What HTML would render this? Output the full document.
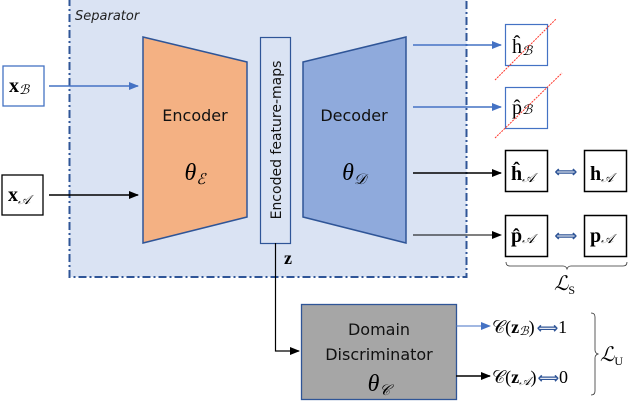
<!DOCTYPE html>
<html><head><meta charset="utf-8"><style>
html,body{margin:0;padding:0;background:#fff}
svg{display:block}
.s{font-family:"DejaVu Sans","Liberation Sans",sans-serif}
.m{font-family:"Liberation Serif","DejaVu Serif",serif}
</style></head><body>
<svg width="628" height="404" viewBox="0 0 628 404" xmlns="http://www.w3.org/2000/svg">
<defs>
<marker id="ab" markerWidth="10" markerHeight="8" refX="9" refY="4" orient="auto" markerUnits="userSpaceOnUse"><path d="M0,0 L10,4 L0,8 z" fill="#4472c4"/></marker>
<marker id="ak" markerWidth="10" markerHeight="8" refX="9" refY="4" orient="auto" markerUnits="userSpaceOnUse"><path d="M0,0 L10,4 L0,8 z" fill="#000"/></marker>
</defs>
<rect x="69.5" y="-2" width="397" height="279" fill="#dae3f3" stroke="#2f5597" stroke-width="2" stroke-dasharray="8,3,2,3"/>
<text x="75" y="20" class="s" font-size="13" font-style="italic" fill="#222">Separator</text>
<polygon points="143,37 247,62 247,217 143,243" fill="#f4b183" stroke="#2f5597" stroke-width="1.5"/>
<text x="195" y="121" class="s" font-size="16" text-anchor="middle" fill="#111">Encoder</text>
<text x="195" y="180" class="m" font-size="24" font-style="italic" text-anchor="middle">θ<tspan font-size="15" dy="4">ℰ</tspan></text>
<rect x="260.5" y="37.5" width="30" height="206" fill="#dae3f3" stroke="#2f5597" stroke-width="1.2"/>
<text transform="translate(281,140) rotate(-90)" class="s" font-size="14" text-anchor="middle" fill="#111">Encoded feature-maps</text>
<polygon points="303,62 406,37 406,243 303,217" fill="#8faadc" stroke="#2f5597" stroke-width="1.5"/>
<text x="354" y="121" class="s" font-size="16" text-anchor="middle" fill="#111">Decoder</text>
<text x="354" y="180" class="m" font-size="24" font-style="italic" text-anchor="middle">θ<tspan font-size="15" dy="4">𝒟</tspan></text>
<text x="284" y="264" class="m" font-size="18" font-weight="bold">z</text>
<polyline points="275.5,243 275.5,351 299,351" fill="none" stroke="#000" stroke-width="1.2" marker-end="url(#ak)"/>
<rect x="3" y="66" width="41" height="40" fill="#fff" stroke="#4472c4" stroke-width="1.3"/>
<text x="9" y="92" class="m" font-size="20" font-weight="bold">x<tspan font-size="13" font-style="italic" font-weight="normal" dy="2">ℬ</tspan></text>
<rect x="2" y="175" width="41" height="40" fill="#fff" stroke="#000" stroke-width="1.3"/>
<text x="8" y="201" class="m" font-size="20" font-weight="bold">x<tspan font-size="13" font-style="italic" font-weight="normal" dy="3">𝒜</tspan></text>
<line x1="49" y1="86" x2="138" y2="86" stroke="#4472c4" stroke-width="1.5" marker-end="url(#ab)"/>
<line x1="49" y1="195" x2="138" y2="195" stroke="#000" stroke-width="1.5" marker-end="url(#ak)"/>
<line x1="413" y1="45" x2="501" y2="45" stroke="#4472c4" stroke-width="1.5" marker-end="url(#ab)"/>
<line x1="413" y1="107" x2="501" y2="107" stroke="#4472c4" stroke-width="1.5" marker-end="url(#ab)"/>
<line x1="413" y1="173" x2="501" y2="173" stroke="#000" stroke-width="1.5" marker-end="url(#ak)"/>
<line x1="413" y1="235" x2="501" y2="235" stroke="#000" stroke-width="1" marker-end="url(#ak)"/>
<rect x="505.5" y="24.5" width="42" height="41" fill="#fff" stroke="#4472c4" stroke-width="1.2"/>
<text x="512" y="53" class="m" font-size="20">ĥ<tspan font-size="13" font-style="italic" dy="2">ℬ</tspan></text>
<rect x="505.5" y="87.5" width="42" height="41" fill="#fff" stroke="#4472c4" stroke-width="1.2"/>
<text x="512" y="114" class="m" font-size="20">p̂<tspan font-size="13" font-style="italic" dy="0">ℬ</tspan></text>
<line x1="495" y1="80" x2="556" y2="19" stroke="#ff3b30" stroke-width="1" stroke-dasharray="2,1"/>
<line x1="495" y1="138" x2="562" y2="73" stroke="#ff3b30" stroke-width="1" stroke-dasharray="2,1"/>
<rect x="505.5" y="150.5" width="42" height="41" fill="#fff" stroke="#000" stroke-width="1.5"/>
<text x="511" y="180" class="m" font-size="20" font-weight="bold">ĥ<tspan font-size="13" font-style="italic" font-weight="normal" dy="2">𝒜</tspan></text>
<rect x="584.5" y="150.5" width="42" height="41" fill="#fff" stroke="#000" stroke-width="1.5"/>
<text x="590" y="180" class="m" font-size="20" font-weight="bold">h<tspan font-size="13" font-style="italic" font-weight="normal" dy="2">𝒜</tspan></text>
<rect x="505.5" y="215.5" width="42" height="41" fill="#fff" stroke="#000" stroke-width="1.5"/>
<text x="511" y="242" class="m" font-size="20" font-weight="bold">p̂<tspan font-size="13" font-style="italic" font-weight="normal" dy="1">𝒜</tspan></text>
<rect x="584.5" y="215.5" width="42" height="41" fill="#fff" stroke="#000" stroke-width="1.5"/>
<text x="590" y="242" class="m" font-size="20" font-weight="bold">p<tspan font-size="13" font-style="italic" font-weight="normal" dy="1">𝒜</tspan></text>
<text x="566" y="177" class="s" font-size="16" font-weight="bold" text-anchor="middle" fill="#2f5597">⟺</text>
<text x="566" y="241" class="s" font-size="16" font-weight="bold" text-anchor="middle" fill="#2f5597">⟺</text>
<path d="M506,262 q0,4 4,4 L563,266 q3,0 4,3 q1,-3 4,-3 L623,266 q4,0 4,-4" fill="none" stroke="#333" stroke-width="0.8"/>
<text x="554" y="290" class="m" font-size="20" font-style="italic">ℒ<tspan font-size="12" font-style="normal" dy="4">S</tspan></text>
<rect x="301.5" y="304.5" width="155" height="95" fill="#a6a6a6" stroke="#2f5597" stroke-width="1.3"/>
<text x="379" y="335" class="s" font-size="16" text-anchor="middle" fill="#111">Domain</text>
<text x="379" y="360" class="s" font-size="16" text-anchor="middle" fill="#111">Discriminator</text>
<text x="379" y="391" class="m" font-size="24" font-style="italic" text-anchor="middle">θ<tspan font-size="15" dy="4">𝒞</tspan></text>
<line x1="456" y1="326" x2="490" y2="326" stroke="#4472c4" stroke-width="1" marker-end="url(#ab)"/>
<line x1="456" y1="376" x2="490" y2="376" stroke="#000" stroke-width="1.5" marker-end="url(#ak)"/>
<text x="492" y="333" class="m" font-size="18">𝒞(<tspan font-weight="bold">z</tspan><tspan font-size="12" font-style="italic" dy="2">ℬ</tspan><tspan dy="-2">)</tspan><tspan fill="#2f5597" font-family="DejaVu Sans" font-size="15" font-weight="bold" dx="2">⟺</tspan>1</text>
<text x="492" y="383" class="m" font-size="18">𝒞(<tspan font-weight="bold">z</tspan><tspan font-size="12" font-style="italic" dy="2">𝒜</tspan><tspan dy="-2">)</tspan><tspan fill="#2f5597" font-family="DejaVu Sans" font-size="15" font-weight="bold" dx="1">⟺</tspan>0</text>
<path d="M591,313 q4,0 4,4 L595,350 q0,3 3,4 q-3,1 -3,4 L595,391 q0,4 -4,4" fill="none" stroke="#333" stroke-width="0.8"/>
<text x="600" y="361" class="m" font-size="20" font-style="italic">ℒ<tspan font-size="12" font-style="normal" dy="4">U</tspan></text>
</svg>
</body></html>
